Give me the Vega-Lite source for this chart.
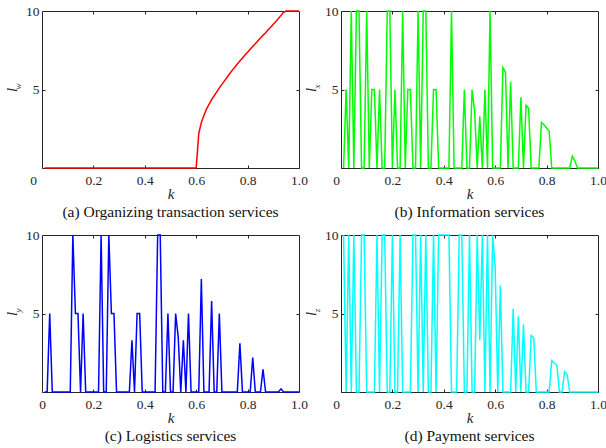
{
  "$schema": "https://vega.github.io/schema/vega-lite/v6.json",
  "padding": {"left": 3, "top": 3, "right": 0, "bottom": 0},
  "columns": 2,
  "bounds": "flush",
  "spacing": {"row": 67, "column": 42},
  "config": {
    "font": "Liberation Serif",
    "view": {"stroke": "#262626", "strokeWidth": 1},
    "axis": {
      "domain": false, "grid": false,
      "tickColor": "#262626", "tickSize": -3, "tickWidth": 1,
      "labelFont": "Liberation Serif", "labelFontSize": 13.5, "labelColor": "#262626",
      "labelFlush": false, "labelOverlap": false,
      "titleFont": "Liberation Serif", "titleFontStyle": "italic", "titleFontWeight": "normal",
      "titleFontSize": 15, "titleColor": "#262626"
    },
    "title": {"font": "Liberation Serif", "fontSize": 15.5, "fontWeight": "normal", "color": "#111111"}
  },
  "data": {"values": [
    {"k":0.01,"lw":0,"lx":0,"ly":0,"lz":10},
    {"k":0.02,"lw":0,"lx":5,"ly":0,"lz":0},
    {"k":0.03,"lw":0,"lx":0,"ly":5,"lz":10},
    {"k":0.04,"lw":0,"lx":10,"ly":0,"lz":0},
    {"k":0.05,"lw":0,"lx":0,"ly":0,"lz":10},
    {"k":0.06,"lw":0,"lx":10,"ly":0,"lz":0},
    {"k":0.07,"lw":0,"lx":10,"ly":0,"lz":0},
    {"k":0.08,"lw":0,"lx":0,"ly":0,"lz":10},
    {"k":0.09,"lw":0,"lx":0,"ly":0,"lz":10},
    {"k":0.10,"lw":0,"lx":10,"ly":0,"lz":0},
    {"k":0.11,"lw":0,"lx":0,"ly":0,"lz":0},
    {"k":0.12,"lw":0,"lx":5,"ly":10,"lz":0},
    {"k":0.13,"lw":0,"lx":5,"ly":5,"lz":0},
    {"k":0.14,"lw":0,"lx":0,"ly":5,"lz":10},
    {"k":0.15,"lw":0,"lx":5,"ly":0,"lz":0},
    {"k":0.16,"lw":0,"lx":0,"ly":5,"lz":10},
    {"k":0.17,"lw":0,"lx":0,"ly":0,"lz":10},
    {"k":0.18,"lw":0,"lx":10,"ly":0,"lz":0},
    {"k":0.19,"lw":0,"lx":10,"ly":0,"lz":0},
    {"k":0.20,"lw":0,"lx":0,"ly":0,"lz":10},
    {"k":0.21,"lw":0,"lx":5,"ly":0,"lz":0},
    {"k":0.22,"lw":0,"lx":0,"ly":0,"lz":0},
    {"k":0.23,"lw":0,"lx":0,"ly":10,"lz":10},
    {"k":0.24,"lw":0,"lx":10,"ly":0,"lz":0},
    {"k":0.25,"lw":0,"lx":0,"ly":0,"lz":0},
    {"k":0.26,"lw":0,"lx":5,"ly":10,"lz":0},
    {"k":0.27,"lw":0,"lx":5,"ly":5,"lz":0},
    {"k":0.28,"lw":0,"lx":0,"ly":5,"lz":10},
    {"k":0.29,"lw":0,"lx":0,"ly":0,"lz":10},
    {"k":0.30,"lw":0,"lx":10,"ly":0,"lz":0},
    {"k":0.31,"lw":0,"lx":0,"ly":0,"lz":10},
    {"k":0.32,"lw":0,"lx":10,"ly":0,"lz":0},
    {"k":0.33,"lw":0,"lx":10,"ly":0,"lz":10},
    {"k":0.34,"lw":0,"lx":0,"ly":0,"lz":0},
    {"k":0.35,"lw":0,"lx":0,"ly":3.3,"lz":0},
    {"k":0.36,"lw":0,"lx":5,"ly":0,"lz":10},
    {"k":0.37,"lw":0,"lx":5,"ly":5,"lz":0},
    {"k":0.38,"lw":0,"lx":0,"ly":5,"lz":10},
    {"k":0.39,"lw":0,"lx":0,"ly":0,"lz":10},
    {"k":0.40,"lw":0,"lx":0,"ly":0,"lz":10},
    {"k":0.41,"lw":0,"lx":0,"ly":0,"lz":10},
    {"k":0.42,"lw":0,"lx":0,"ly":0,"lz":10},
    {"k":0.43,"lw":0,"lx":10,"ly":0,"lz":0},
    {"k":0.44,"lw":0,"lx":0,"ly":0,"lz":0},
    {"k":0.45,"lw":0,"lx":0,"ly":10,"lz":0},
    {"k":0.46,"lw":0,"lx":0,"ly":10,"lz":10},
    {"k":0.47,"lw":0,"lx":0,"ly":0,"lz":10},
    {"k":0.48,"lw":0,"lx":5,"ly":0,"lz":0},
    {"k":0.49,"lw":0,"lx":0,"ly":5,"lz":0},
    {"k":0.50,"lw":0,"lx":0,"ly":0,"lz":10},
    {"k":0.51,"lw":0,"lx":5,"ly":0,"lz":0},
    {"k":0.52,"lw":0,"lx":3.6,"ly":5,"lz":0},
    {"k":0.53,"lw":0,"lx":0,"ly":3.5,"lz":10},
    {"k":0.54,"lw":0,"lx":3.3,"ly":0,"lz":3.3},
    {"k":0.55,"lw":0,"lx":0,"ly":3.3,"lz":10},
    {"k":0.56,"lw":0,"lx":5,"ly":0,"lz":0},
    {"k":0.57,"lw":0,"lx":0,"ly":5,"lz":10},
    {"k":0.58,"lw":0,"lx":10,"ly":0,"lz":0},
    {"k":0.59,"lw":0,"lx":0,"ly":0,"lz":10},
    {"k":0.60,"lw":0,"lx":0,"ly":0,"lz":7.9},
    {"k":0.61,"lw":2.2,"lx":0,"ly":0,"lz":0},
    {"k":0.62,"lw":2.9,"lx":0,"ly":7.2,"lz":6.8},
    {"k":0.63,"lw":3.35,"lx":6.4,"ly":0,"lz":0},
    {"k":0.64,"lw":3.75,"lx":6.1,"ly":0,"lz":0},
    {"k":0.65,"lw":4.05,"lx":0,"ly":0,"lz":0},
    {"k":0.66,"lw":4.35,"lx":5.5,"ly":5.8,"lz":0},
    {"k":0.67,"lw":4.6,"lx":0,"ly":0,"lz":5.3},
    {"k":0.68,"lw":4.85,"lx":0,"ly":0,"lz":0},
    {"k":0.69,"lw":5.1,"lx":0,"ly":5,"lz":4.8},
    {"k":0.70,"lw":5.33,"lx":4.5,"ly":0,"lz":0},
    {"k":0.71,"lw":5.55,"lx":0,"ly":0,"lz":4.3},
    {"k":0.72,"lw":5.78,"lx":4.0,"ly":0,"lz":0},
    {"k":0.73,"lw":6.0,"lx":3.8,"ly":0,"lz":0},
    {"k":0.74,"lw":6.22,"lx":0,"ly":0,"lz":3.6},
    {"k":0.75,"lw":6.42,"lx":0,"ly":0,"lz":3.45},
    {"k":0.76,"lw":6.62,"lx":0,"ly":0,"lz":0},
    {"k":0.77,"lw":6.82,"lx":0,"ly":3.1,"lz":0},
    {"k":0.78,"lw":7.0,"lx":2.9,"ly":0,"lz":0},
    {"k":0.79,"lw":7.2,"lx":2.75,"ly":0,"lz":0},
    {"k":0.80,"lw":7.38,"lx":2.55,"ly":0,"lz":0},
    {"k":0.81,"lw":7.56,"lx":2.35,"ly":0,"lz":0},
    {"k":0.82,"lw":7.74,"lx":0,"ly":2.2,"lz":2.0},
    {"k":0.83,"lw":7.92,"lx":0,"ly":0,"lz":1.85},
    {"k":0.84,"lw":8.1,"lx":0,"ly":0,"lz":1.7},
    {"k":0.85,"lw":8.28,"lx":0,"ly":0,"lz":0},
    {"k":0.86,"lw":8.45,"lx":0,"ly":1.45,"lz":0},
    {"k":0.87,"lw":8.62,"lx":0,"ly":0,"lz":1.3},
    {"k":0.88,"lw":8.8,"lx":0,"ly":0,"lz":1.1},
    {"k":0.89,"lw":8.97,"lx":0,"ly":0,"lz":0},
    {"k":0.90,"lw":9.15,"lx":0.75,"ly":0,"lz":0},
    {"k":0.91,"lw":9.33,"lx":0.45,"ly":0,"lz":0},
    {"k":0.92,"lw":9.52,"lx":0,"ly":0,"lz":0},
    {"k":0.93,"lw":9.72,"lx":0,"ly":0.2,"lz":0},
    {"k":0.94,"lw":9.92,"lx":0,"ly":0,"lz":0},
    {"k":0.95,"lw":10,"lx":0,"ly":0,"lz":0},
    {"k":0.96,"lw":10,"lx":0,"ly":0,"lz":0},
    {"k":0.97,"lw":10,"lx":0,"ly":0,"lz":0},
    {"k":0.98,"lw":10,"lx":0,"ly":0,"lz":0},
    {"k":0.99,"lw":10,"lx":0,"ly":0,"lz":0},
    {"k":1.00,"lw":10,"lx":0,"ly":0,"lz":0}
  ]},
  "concat": [
    {
      "width": 257, "height": 157,
      "title": {"text": "(a) Organizing transaction services", "orient": "bottom", "offset": 3},
      "resolve": {"axis": {"x": "independent", "y": "independent"}},
      "layer": [
        {
          "mark": {"type": "line", "color": "#ff0000", "strokeWidth": 1.5},
          "encoding": {
            "x": {"field": "k", "type": "quantitative", "scale": {"domain": [0, 1], "nice": false},
                  "axis": {"orient": "bottom", "values": [0, 0.2, 0.4, 0.6, 0.8, 1], "labelPadding": 8,
                           "labelExpr": "datum.value === 0 ? '0' : format(datum.value, '.1f')",
                           "labelOffset": {"condition": {"test": "datum.value === 0", "value": -9}, "value": 0},
                           "title": "k", "titlePadding": 0}},
            "y": {"field": "lw", "type": "quantitative", "scale": {"domain": [0, 10], "nice": false},
                  "axis": {"orient": "left", "values": [5, 10], "labelPadding": 6,
                           "title": "l", "titleX": -31, "titleY": 78.5, "titleBaseline": "middle", "titleAlign": "center"}}
          }
        },
        {
          "mark": {"type": "line", "opacity": 0},
          "encoding": {
            "x": {"field": "k", "type": "quantitative",
                  "axis": {"orient": "top", "values": [0.2, 0.4, 0.6, 0.8], "labels": false, "title": null}},
            "y": {"field": "lw", "type": "quantitative",
                  "axis": {"orient": "right", "values": [5], "labels": false,
                           "title": "w", "titleFontSize": 9, "titleAngle": 270, "titleX": -282, "titleY": 75,
                           "titleBaseline": "middle", "titleAlign": "center"}}
          }
        }
      ]
    },
    {
      "width": 257, "height": 157,
      "title": {"text": "(b) Information services", "orient": "bottom", "offset": 3},
      "resolve": {"axis": {"x": "independent", "y": "independent"}},
      "layer": [
        {
          "mark": {"type": "line", "color": "#00ff00", "strokeWidth": 1.5},
          "encoding": {
            "x": {"field": "k", "type": "quantitative", "scale": {"domain": [0, 1], "nice": false},
                  "axis": {"orient": "bottom", "values": [0, 0.2, 0.4, 0.6, 0.8, 1], "labelPadding": 8,
                           "labelExpr": "datum.value === 0 ? '0' : format(datum.value, '.1f')",
                           "labelOffset": {"condition": {"test": "datum.value === 0", "value": -5}, "value": 0},
                           "title": "k", "titlePadding": 0}},
            "y": {"field": "lx", "type": "quantitative", "scale": {"domain": [0, 10], "nice": false},
                  "axis": {"orient": "left", "values": [5, 10], "labelPadding": 6,
                           "title": "l", "titleX": -31, "titleY": 78.5, "titleBaseline": "middle", "titleAlign": "center"}}
          }
        },
        {
          "mark": {"type": "line", "opacity": 0},
          "encoding": {
            "x": {"field": "k", "type": "quantitative",
                  "axis": {"orient": "top", "values": [0.2, 0.4, 0.6, 0.8], "labels": false, "title": null}},
            "y": {"field": "lx", "type": "quantitative",
                  "axis": {"orient": "right", "values": [5], "labels": false,
                           "title": "x", "titleFontSize": 9, "titleAngle": 270, "titleX": -282, "titleY": 75,
                           "titleBaseline": "middle", "titleAlign": "center"}}
          }
        }
      ]
    },
    {
      "width": 257, "height": 157,
      "title": {"text": "(c) Logistics services", "orient": "bottom", "offset": 3},
      "resolve": {"axis": {"x": "independent", "y": "independent"}},
      "layer": [
        {
          "mark": {"type": "line", "color": "#0000ff", "strokeWidth": 1.5},
          "encoding": {
            "x": {"field": "k", "type": "quantitative", "scale": {"domain": [0, 1], "nice": false},
                  "axis": {"orient": "bottom", "values": [0, 0.2, 0.4, 0.6, 0.8, 1], "labelPadding": 8,
                           "labelExpr": "datum.value === 0 ? '0' : format(datum.value, '.1f')",
                           "title": "k", "titlePadding": 0}},
            "y": {"field": "ly", "type": "quantitative", "scale": {"domain": [0, 10], "nice": false},
                  "axis": {"orient": "left", "values": [5, 10], "labelPadding": 6,
                           "title": "l", "titleX": -31, "titleY": 78.5, "titleBaseline": "middle", "titleAlign": "center"}}
          }
        },
        {
          "mark": {"type": "line", "opacity": 0},
          "encoding": {
            "x": {"field": "k", "type": "quantitative",
                  "axis": {"orient": "top", "values": [0.2, 0.4, 0.6, 0.8], "labels": false, "title": null}},
            "y": {"field": "ly", "type": "quantitative",
                  "axis": {"orient": "right", "values": [5], "labels": false,
                           "title": "y", "titleFontSize": 9, "titleAngle": 270, "titleX": -282, "titleY": 75,
                           "titleBaseline": "middle", "titleAlign": "center"}}
          }
        }
      ]
    },
    {
      "width": 257, "height": 157,
      "title": {"text": "(d) Payment services", "orient": "bottom", "offset": 3},
      "resolve": {"axis": {"x": "independent", "y": "independent"}},
      "layer": [
        {
          "mark": {"type": "line", "color": "#00ffff", "strokeWidth": 1.5},
          "encoding": {
            "x": {"field": "k", "type": "quantitative", "scale": {"domain": [0, 1], "nice": false},
                  "axis": {"orient": "bottom", "values": [0, 0.2, 0.4, 0.6, 0.8, 1], "labelPadding": 8,
                           "labelExpr": "datum.value === 0 ? '0' : format(datum.value, '.1f')",
                           "labelOffset": {"condition": {"test": "datum.value === 0", "value": -5}, "value": 0},
                           "title": "k", "titlePadding": 0}},
            "y": {"field": "lz", "type": "quantitative", "scale": {"domain": [0, 10], "nice": false},
                  "axis": {"orient": "left", "values": [5, 10], "labelPadding": 6,
                           "title": "l", "titleX": -31, "titleY": 78.5, "titleBaseline": "middle", "titleAlign": "center"}}
          }
        },
        {
          "mark": {"type": "line", "opacity": 0},
          "encoding": {
            "x": {"field": "k", "type": "quantitative",
                  "axis": {"orient": "top", "values": [0.2, 0.4, 0.6, 0.8], "labels": false, "title": null}},
            "y": {"field": "lz", "type": "quantitative",
                  "axis": {"orient": "right", "values": [5], "labels": false,
                           "title": "z", "titleFontSize": 9, "titleAngle": 270, "titleX": -282, "titleY": 75,
                           "titleBaseline": "middle", "titleAlign": "center"}}
          }
        }
      ]
    }
  ]
}
